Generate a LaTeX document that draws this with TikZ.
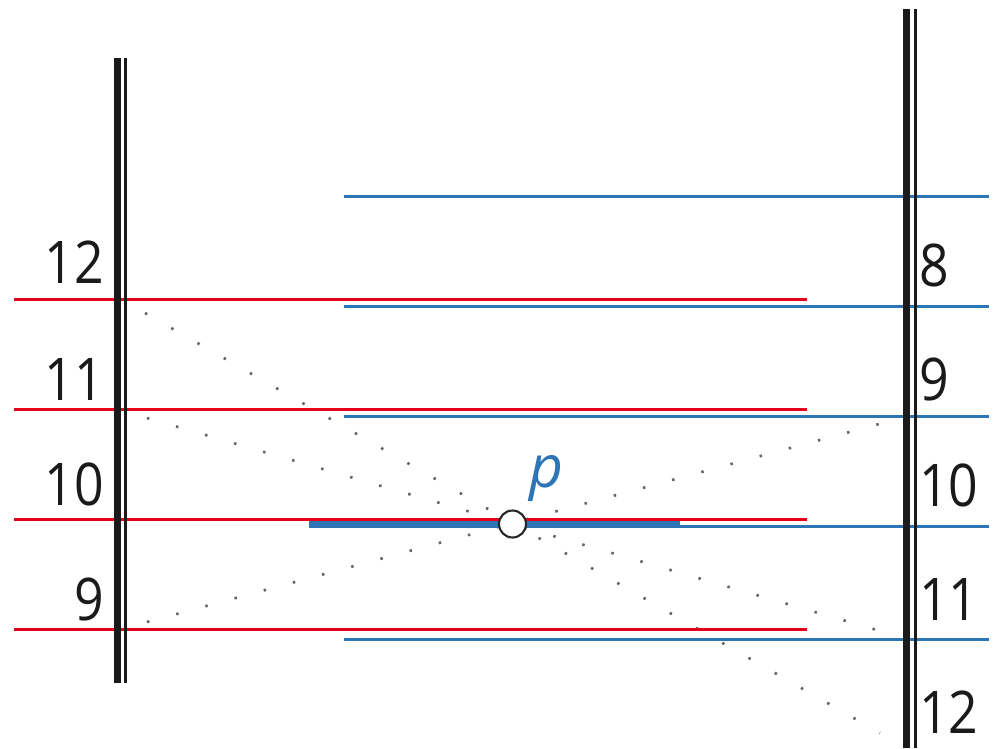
\documentclass[tikz,border=0pt]{standalone}
\usepackage{fontspec}
\setmainfont{Open Sans}
\newfontfamily\digitfont{Open Sans}[FakeStretch=0.88]
\definecolor{myred}{RGB}{228,0,27}
\definecolor{myblue}{RGB}{46,117,182}
\definecolor{wallblack}{RGB}{26,26,26}
\definecolor{dotgray}{RGB}{100,100,100}
\begin{document}
\begin{tikzpicture}[x=0.02cm,y=-0.02cm,
  redline/.style={draw=myred,line width=1.7pt},
  blueline/.style={draw=myblue,line width=1.7pt},
  thickblue/.style={draw=myblue,line width=3.6pt},
  dotline/.style={draw=dotgray,line width=1.5pt,dash pattern=on 1.4pt off 15.8pt},
  thickwall/.style={draw=wallblack,line width=4pt},
  thinwall/.style={draw=wallblack,line width=1.7pt},
  lbl/.style={font=\digitfont\fontsize{33.5}{36}\selectfont,text=wallblack,inner sep=0pt}]
\useasboundingbox (0,0) rectangle (997,748);
% dotted lines
\coordinate (a1) at (145,313); \coordinate (a2) at (880,733);
\coordinate (b1) at (147,418); \coordinate (b2) at (877,630);
\coordinate (c1) at (147,622); \coordinate (c2) at (879,424);
\draw[dotline] (a1) -- (a2);
\draw[dotline] (b1) -- (b2);
\draw[dotline] (c1) -- (c2);
% red lines
\foreach \y in {299,409,519,629} \draw[redline] (14,\y) -- (807,\y);
% blue lines
\foreach \y in {196,306,416,526,639} \draw[blueline] (344,\y) -- (989,\y);
\draw[thickblue] (309,524.5) -- (680,524.5);
% walls
\draw[thickwall] (117.5,58) -- (117.5,683);
\draw[thinwall] (125.5,58) -- (125.5,683);
\draw[thickwall] (906.5,9) -- (906.5,748);
\draw[thinwall] (915.5,9) -- (915.5,748);
% point p
\node[circle,draw=black!85,fill=white,line width=1.2pt,minimum size=0.54cm,inner sep=0pt] (p) at (512.5,524) {};
\node[anchor=base west,inner sep=0pt,text=myblue,font=\fontsize{33.5}{36}\selectfont\itshape] (plabel) at (529,487) {p};
% left labels
\node[lbl,anchor=base east] (l12) at (104,283) {12};
\node[lbl,anchor=base east] (l11) at (104,400) {11};
\node[lbl,anchor=base east] (l10) at (104,505) {10};
\node[lbl,anchor=base east] (l9) at (104,620) {9};
% right labels
\node[lbl,anchor=base west] (r8) at (919,286) {8};
\node[lbl,anchor=base west] (r9) at (919,400) {9};
\node[lbl,anchor=base west] (r10) at (919,506) {10};
\node[lbl,anchor=base west] (r11) at (919,620) {11};
\node[lbl,anchor=base west] (r12) at (919,733) {12};
\end{tikzpicture}
\end{document}
